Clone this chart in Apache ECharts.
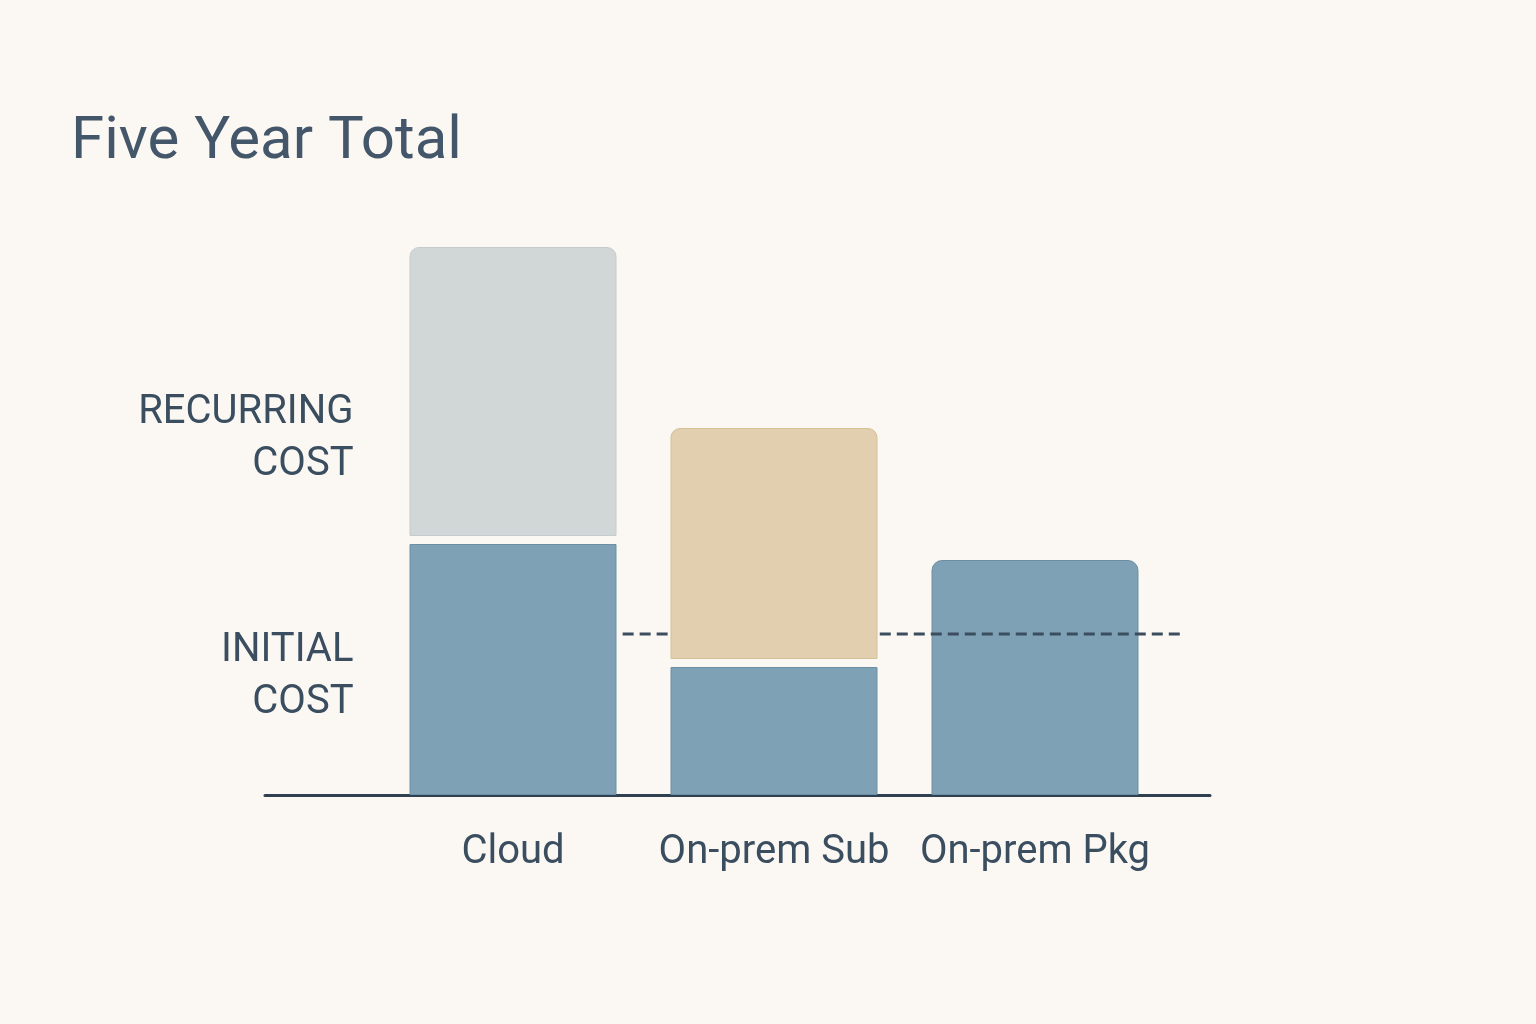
<!DOCTYPE html>
<html>
<head>
<meta charset="utf-8">
<title>Five Year Total</title>
<script src="https://cdn.jsdelivr.net/npm/echarts@6/dist/echarts.min.js"></script>
<style>
  html, body { margin: 0; padding: 0; background: #fbf8f3; }
  #chart { width: 1536px; height: 1024px; }
</style>
</head>
<body>
<div id="chart"></div>
<script>
// data
var categories = ['Cloud', 'On-prem Sub', 'On-prem Pkg'];
var initialCost = [251, 128, 235];
var recurringCost = [289, 231, null];   // Pkg has no recurring part
var referenceLevel = 161;               // dashed line
var sideLabels = ['INITIAL\nCOST', 'RECURRING\nCOST'];
var sideLabelValues = [118, 356];

// look
var GAP = 8;
var recurringColors = ['#d1d7d7', '#e1cfb0', null];
var recurringBorders = ['#c5cccd', '#d6c196', null];
var textColor = '#3a4e60';
var font = 'Roboto';

var chart = echarts.init(document.getElementById('chart'));

var spacer = [], initialData = [], recurringData = [];
for (var i = 0; i < categories.length; i++) {
    var hasRec = recurringCost[i] != null;
    spacer.push(hasRec ? GAP : '-');
    initialData.push({
        value: initialCost[i],
        itemStyle: { borderRadius: hasRec ? 0 : [10, 10, 0, 0] }
    });
    recurringData.push(hasRec ? {
        value: recurringCost[i],
        itemStyle: { color: recurringColors[i], borderColor: recurringBorders[i] }
    } : '-');
}

// dashed reference line runs in the gaps around the middle bar (x in category units, Cloud = 0)
var refData = [[0.42, referenceLevel], [0.605, referenceLevel], [1.0, '-'], [1.405, referenceLevel], [2.575, referenceLevel]];

var option = {
    backgroundColor: '#fbf8f3',
    animation: false,
    title: {
        text: 'Five Year Total',
        left: 66,
        top: 108,
        textStyle: { fontFamily: font, fontSize: 60, fontWeight: 'normal', color: '#44576a' }
    },
    grid: [
        { left: 382.5, right: 370.5, top: 195, bottom: 229 },
        { left: 265, right: 326, top: 195, bottom: 229 }
    ],
    xAxis: [{
        gridIndex: 0,
        type: 'category',
        data: categories,
        axisLine: { show: false },
        axisTick: { show: false },
        axisLabel: { fontFamily: font, fontSize: 40, color: textColor, margin: 38, interval: 0 }
    }, {
        gridIndex: 1,
        type: 'value',
        min: -0.95,
        max: 2.67,
        axisLine: { show: true, lineStyle: { color: '#2f4050', width: 3, cap: 'round' } },
        axisTick: { show: false },
        axisLabel: { show: false },
        splitLine: { show: false }
    }],
    yAxis: [{
        gridIndex: 0,
        type: 'value',
        min: 0,
        max: 600,
        axisLine: { show: false },
        axisTick: { show: false },
        splitLine: { show: false },
        axisLabel: {
            customValues: sideLabelValues,
            formatter: function (v) {
                return sideLabels[sideLabelValues.indexOf(v)] || '';
            },
            fontFamily: font,
            fontSize: 40,
            lineHeight: 52,
            color: textColor,
            align: 'right',
            margin: 29
        }
    }, {
        gridIndex: 1,
        type: 'value',
        min: 0,
        max: 600,
        show: false
    }],
    series: [{
        name: 'Initial',
        type: 'bar',
        stack: 'total',
        barWidth: 207,
        data: initialData,
        itemStyle: { color: '#7fa1b6', borderColor: '#6d8fa4', borderWidth: 1 }
    }, {
        name: 'gap',
        type: 'bar',
        stack: 'total',
        silent: true,
        data: spacer,
        itemStyle: { color: 'rgba(0,0,0,0)' }
    }, {
        name: 'Recurring',
        type: 'bar',
        stack: 'total',
        data: recurringData,
        itemStyle: { borderWidth: 1, borderRadius: [9, 9, 0, 0] }
    }, {
        name: 'Reference',
        type: 'line',
        xAxisIndex: 1,
        yAxisIndex: 1,
        data: refData,
        symbol: 'none',
        connectNulls: false,
        z: 5,
        lineStyle: { color: '#3b4d5e', width: 3, type: [11, 6] }
    }]
};

chart.setOption(option);
</script>
</body>
</html>
